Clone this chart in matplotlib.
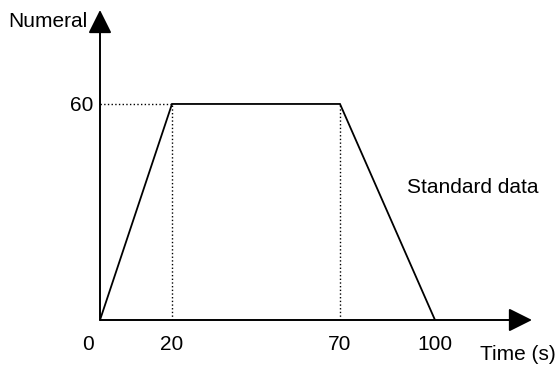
import numpy as np
import matplotlib.pyplot as plt
import matplotlib.transforms as mtrans

plt.rcParams['font.family'] = ['Liberation Sans', 'DejaVu Sans']

# standard data profile
time_s = [0, 20, 70, 100]
numeral = [0, 60, 60, 0]
x_ticks = [0, 20, 70, 100]
y_ticks = [60]

# schematic x axis is not quite linear: data value -> drawn distance
scale_x = [-50, 0, 20, 70, 100, 200]
scale_px = [-180, 0, 72, 240, 335, 652]


def fwd(x):
    return np.interp(x, scale_x, scale_px)


def inv(p):
    return np.interp(p, scale_px, scale_x)


fs = 15

fig = plt.figure(figsize=(5.56, 3.7), dpi=100)
ax = fig.add_axes([100 / 556, 50 / 370, 432 / 556, 310 / 370])
ax.set_xscale('function', functions=(fwd, inv))
ax.set_xlim(0, 130.6)
ax.set_ylim(0, 86.1)

for s in ax.spines.values():
    s.set_visible(False)

# axis arrows
arrow = dict(arrowstyle='-|>,head_length=0.8,head_width=0.4', color='black',
             lw=1.4, mutation_scale=18, shrinkA=0, shrinkB=0)
ax.annotate('', xy=(1, 0), xytext=(0, 0), xycoords='axes fraction', arrowprops=arrow)
ax.annotate('', xy=(0, 1), xytext=(0, 0), xycoords='axes fraction', arrowprops=arrow)

# guide lines
ax.plot([time_s[1], time_s[1]], [0, numeral[1]], color='black', lw=1, ls=':')
ax.plot([time_s[2], time_s[2]], [0, numeral[2]], color='black', lw=1, ls=':')
ax.plot([0, time_s[1]], [numeral[1], numeral[1]], color='black', lw=1, ls=':')

ax.plot(time_s, numeral, color='black', lw=1.3, solid_joinstyle='miter')

ax.set_xticks(x_ticks)
ax.set_xticklabels([str(v) for v in x_ticks])
ax.set_yticks(y_ticks)
ax.set_yticklabels([str(v) for v in y_ticks])
ax.tick_params(axis='x', length=0, pad=11, labelsize=fs)
ax.tick_params(axis='y', length=0, pad=5, labelsize=fs)
ax.xaxis.set_minor_locator(plt.NullLocator())

# nudge the "0" label left, away from the y axis
lab0 = ax.get_xticklabels()[0]
lab0.set_transform(lab0.get_transform() + mtrans.ScaledTranslation(-12 / 100, 0, fig.dpi_scale_trans))

ax.annotate('Numeral', xy=(0, 1), xycoords='axes fraction', xytext=(-12, -17),
            textcoords='offset pixels', ha='right', va='baseline', fontsize=fs)
ax.annotate('Time (s)', xy=(1, 0), xycoords='axes fraction', xytext=(-52, -35),
            textcoords='offset pixels', ha='left', va='center', fontsize=fs)
ax.text(91.2, 36.7, 'Standard data', ha='left', va='center', fontsize=fs)

fig.savefig('out.png', dpi=100)
